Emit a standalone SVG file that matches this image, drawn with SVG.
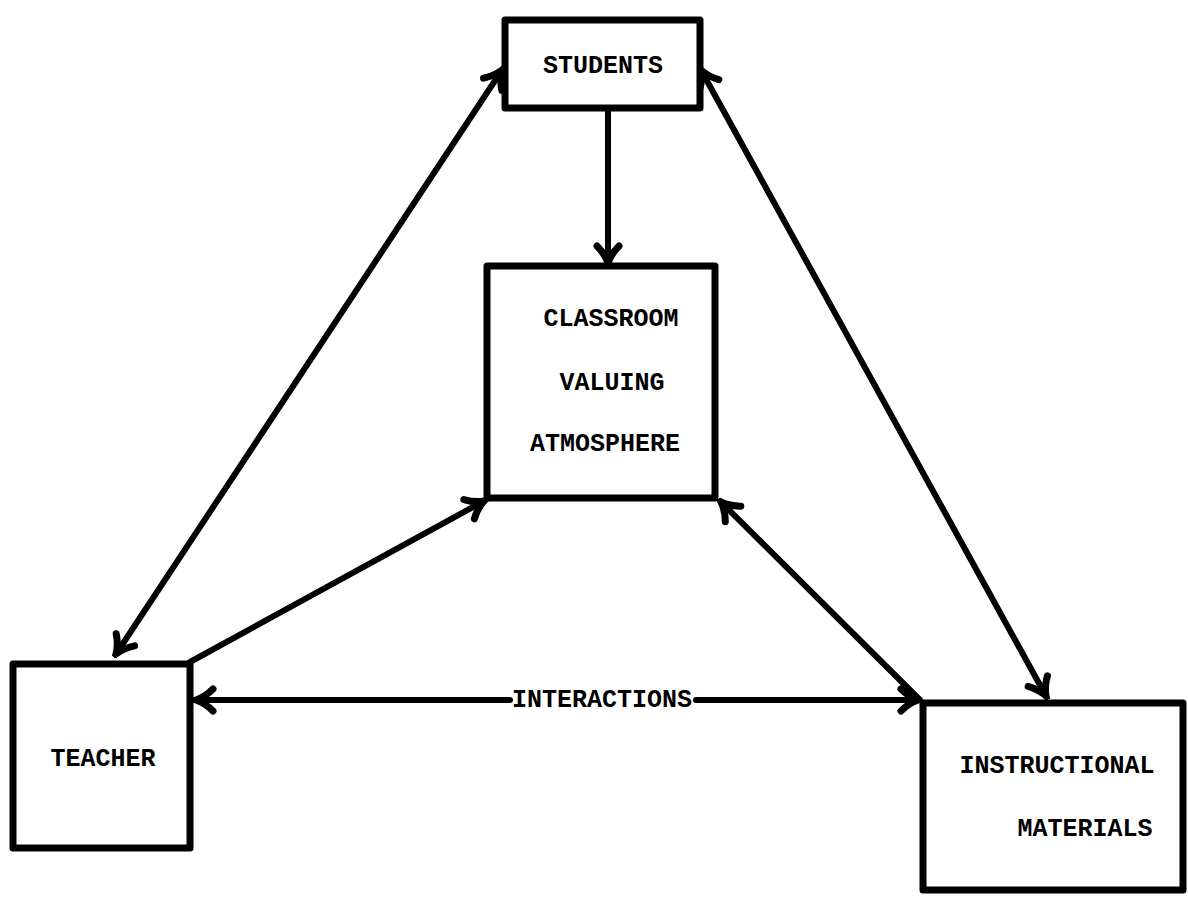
<svg xmlns="http://www.w3.org/2000/svg" width="1188" height="901" viewBox="0 0 1188 901">
<defs>
<style>
.box{fill:#fff;stroke:#000;stroke-width:7;stroke-linejoin:round}
.lbl{font-family:"Liberation Mono","Courier New",monospace;font-size:25px;font-weight:bold;fill:#000;text-anchor:middle}
.con{stroke:#000;stroke-width:6;fill:none;stroke-linecap:round}
</style>
<marker id="ah" viewBox="-22 -16 26 32" refX="0" refY="0" markerWidth="26" markerHeight="32" markerUnits="userSpaceOnUse" orient="auto-start-reverse">
<path d="M-17,-11 Q-9,-3 0,0 Q-9,3 -17,11" fill="none" stroke="#000" stroke-width="7" stroke-linecap="round"/>
</marker>
</defs>
<rect width="1188" height="901" fill="#fff"/>
<g id="connectors">
<line class="con" x1="502" y1="70" x2="116" y2="654" marker-start="url(#ah)" marker-end="url(#ah)"/>
<line class="con" x1="701" y1="70" x2="1046" y2="696" marker-start="url(#ah)" marker-end="url(#ah)"/>
<line class="con" x1="608" y1="110" x2="608" y2="263" marker-end="url(#ah)"/>
<line class="con" x1="190" y1="662" x2="484" y2="501" marker-end="url(#ah)"/>
<line class="con" x1="920" y1="700" x2="721" y2="502" marker-end="url(#ah)"/>
<line class="con" x1="510" y1="700" x2="196" y2="700" marker-end="url(#ah)"/>
<line class="con" x1="696" y1="700" x2="918" y2="700" marker-end="url(#ah)"/>
<text class="lbl" x="602" y="707">INTERACTIONS</text>
</g>
<g id="students">
<rect class="box" x="505" y="20" width="195" height="88"/>
<text class="lbl" x="603" y="73">STUDENTS</text>
</g>
<g id="classroom">
<rect class="box" x="487" y="266" width="228" height="232"/>
<text class="lbl" x="611" y="326">CLASSROOM</text>
<text class="lbl" x="612" y="390">VALUING</text>
<text class="lbl" x="605" y="451">ATMOSPHERE</text>
</g>
<g id="teacher">
<rect class="box" x="13" y="664" width="177" height="184"/>
<text class="lbl" x="103" y="766">TEACHER</text>
</g>
<g id="instructional">
<rect class="box" x="923" y="703" width="260" height="187"/>
<text class="lbl" x="1057" y="773">INSTRUCTIONAL</text>
<text class="lbl" x="1085" y="836">MATERIALS</text>
</g>
</svg>
